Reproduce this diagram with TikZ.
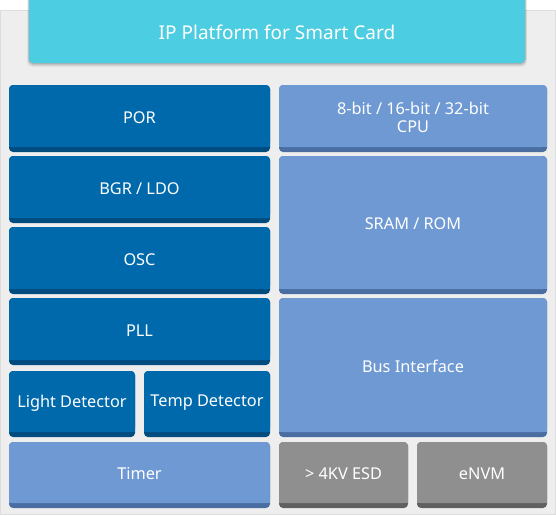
\documentclass[tikz,border=0pt]{standalone}
\usepackage{fontspec}
\setmainfont{Noto Sans}
\definecolor{panel}{HTML}{EEEEEE}
\definecolor{panelline}{HTML}{DDDDDD}
\definecolor{titlec}{HTML}{4DCDE1}
\definecolor{dkblue}{HTML}{0069AC}
\definecolor{dkband}{HTML}{004C7F}
\definecolor{ltblue}{HTML}{6E99D2}
\definecolor{ltband}{HTML}{4A6EA1}
\definecolor{grayc}{HTML}{8F8F8F}
\definecolor{grayband}{HTML}{606060}
\tikzset{
  lbl/.style={text=white, font=\fontsize{16.3}{18.5}\selectfont, align=center, inner sep=0pt},
}
% \blk{name}{x1}{y1}{x2}{y2}{fill}{band}{text}
\newcommand\blk[8]{%
  \fill[#7, rounded corners=4pt] (#2,#3) rectangle (#4,#5);
  \fill[#6, rounded corners=4pt] (#2,#3) rectangle (#4,#5-5);
  \fill[#6] (#2,#5-11) rectangle (#4,#5-5);
  \node[lbl] (#1) at ({(#2+#4)/2},{(#3+#5-5)/2+1.5}) {#8};
}
\begin{document}
\begin{tikzpicture}[x=1pt,y=-1pt]
\useasboundingbox (0,0) rectangle (556,515);
\fill[white] (0,0) rectangle (556,515);
\filldraw[fill=panel, draw=panelline, line width=1pt] (0.5,10.5) rectangle (555.5,514.5);
% title shadow
\foreach \d/\o in {4/0.04,3/0.06,2/0.08,1/0.1} {
  \fill[black, opacity=\o, rounded corners=5pt] (29-\d/2,-10) rectangle (525+\d/2,63+\d);
}
\fill[titlec, rounded corners=4pt] (29,-10) rectangle (525,63);
\node[text=white, font=\fontsize{19}{22}\selectfont, inner sep=0pt] (title) at (277,32.5) {IP Platform for Smart Card};
% left column
\blk{por}{9}{85}{270}{152}{dkblue}{dkband}{POR}
\blk{bgr}{9}{156}{270}{223}{dkblue}{dkband}{BGR / LDO}
\blk{osc}{9}{227}{270}{294}{dkblue}{dkband}{OSC}
\blk{pll}{9}{298}{270}{365}{dkblue}{dkband}{PLL}
\blk{light}{9}{371}{135}{437}{dkblue}{dkband}{Light Detector}
\blk{temp}{144}{371}{270}{437}{dkblue}{dkband}{Temp Detector}
\blk{timer}{9}{442}{270}{508}{ltblue}{ltband}{Timer}
% right column
\blk{cpu}{279}{85}{547}{152}{ltblue}{ltband}{8-bit / 16-bit / 32-bit\\CPU}
\blk{sram}{279}{156}{547}{294}{ltblue}{ltband}{SRAM / ROM}
\blk{bus}{279}{298}{547}{437}{ltblue}{ltband}{Bus Interface}
\blk{esd}{279}{442}{408}{508}{grayc}{grayband}{> 4KV ESD}
\blk{envm}{417}{442}{547}{508}{grayc}{grayband}{eNVM}
\end{tikzpicture}
\end{document}
